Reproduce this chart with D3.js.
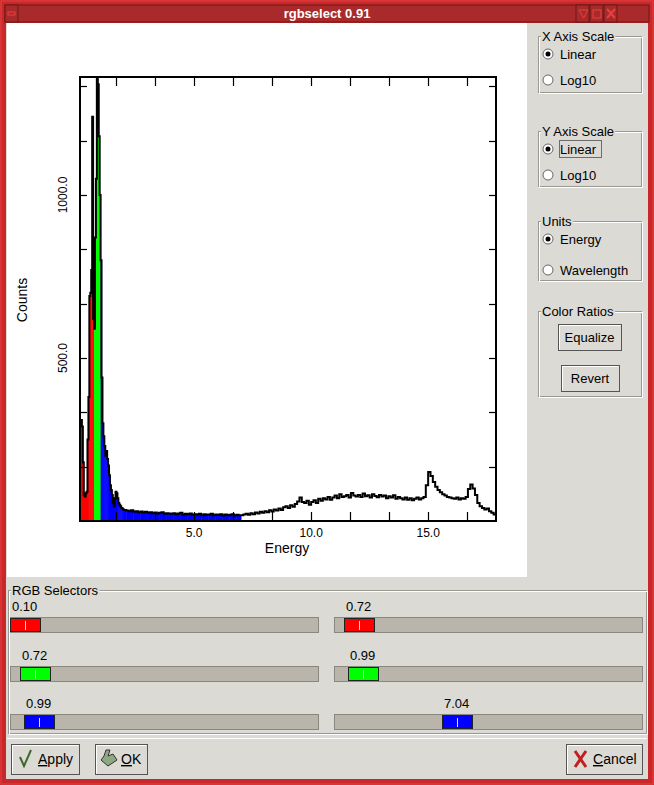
<!DOCTYPE html>
<html><head><meta charset="utf-8">
<script src="https://cdn.jsdelivr.net/npm/d3@7"></script>
<style>body{margin:0;background:#dcdad5}svg{display:block;font-family:"Liberation Sans",Arial,sans-serif}</style>
</head><body><svg id="c" width="654" height="785"></svg>
<script>
// ---- data ----
const lowStart = 0.12, lowStep = 0.04;
const lowCounts = [300,310,290,180,80,75,85,90,250,380,690,700,770,1240,620,590,870,1050,1362,1340,1180,1000,800,440,300,260,230,200,215,190,170,140,110,95,80,55,45,70,90,85,70,55,50,45,40,38,35];
const highStart = 2.0, highStep = 0.1;
const highCounts = [34,32,30,33,28,30,27,29,26,28,25,27,24,26,23,25,27,22,24,23,22,24,21,23,25,20,22,21,23,19,21,20,22,18,21,19,20,22,18,20,19,21,17,20,18,19,21,17,19,18,
18,20,22,19,24,21,26,23,28,25,30,27,33,29,35,32,38,34,42,45,40,48,44,52,60,72,58,55,62,50,
58,64,55,68,62,70,66,74,65,72,78,70,82,74,76,80,72,86,78,75,
80,74,84,76,79,72,82,77,73,80,75,78,70,76,72,79,68,74,70,66,72,65,70,64,68,72,66,70,
74,110,150,138,120,105,95,88,82,78,74,72,
70,68,72,66,70,68,74,98,112,100,80,55,45,40,35,38,30,25,20];
const xDomain = [0.12, 17.9], yDomain = [0, 1362];
const xMajorTicks = [5, 10, 15], yMajorTicks = [500, 1000];
const selectorLabels = ["0.10","0.72","0.72","0.99","0.99","7.04"];
const selectorValues = [0.10,0.72,0.72,0.99,0.99,7.04];
const bandColors = ["#ff0000","#00ff00","#0000ff"];

const bins = [];
lowCounts.forEach((c,i)=>bins.push({x0:lowStart+i*lowStep,x1:lowStart+(i+1)*lowStep,c}));
highCounts.forEach((c,i)=>bins.push({x0:highStart+i*highStep,x1:highStart+(i+1)*highStep,c}));

const svg = d3.select("#c");
const bg="#dcdad5";
svg.append("rect").attr("x",0).attr("y",0).attr("width",654).attr("height",785).attr("fill","#c8282a");
svg.append("rect").attr("x",1).attr("y",1).attr("width",652).attr("height",783).attr("fill","none").attr("stroke","#e84040");
svg.append("rect").attr("x",5).attr("y",5).attr("width",644).attr("height",17).attr("fill","#a82a2a").attr("stroke","#6a1818");
svg.append("text").attr("x",327).attr("y",18).attr("text-anchor","middle").attr("fill","#fff").attr("font-size",13).attr("font-weight","bold").text("rgbselect 0.91");
[5,576,590,604].forEach(x=>svg.append("rect").attr("x",x).attr("y",5).attr("width",13).attr("height",17).attr("fill","#a82a2a").attr("stroke","#6a1818"));
svg.append("rect").attr("x",8).attr("y",12).attr("width",7).attr("height",3).attr("fill","none").attr("stroke","#e84040");
svg.append("path").attr("d","M579,10 L588,10 L583.5,18 Z").attr("fill","none").attr("stroke","#e84040");
svg.append("rect").attr("x",593).attr("y",10).attr("width",8).attr("height",8).attr("fill","none").attr("stroke","#e84040");
svg.append("path").attr("d","M607,9 L615,18 M615,9 L607,18").attr("stroke","#e84040").attr("stroke-width",2);
svg.append("rect").attr("x",6).attr("y",23).attr("width",642).attr("height",756).attr("fill",bg);
svg.append("rect").attr("x",7).attr("y",23).attr("width",520).attr("height",554).attr("fill","#fff");

// plot
const L=80,R=496,T=77,B=521;
const x=d3.scaleLinear().domain(xDomain).range([L,R]);
const y=d3.scaleLinear().domain(yDomain).range([B,T]);
const col=d=>{const m=(d.x0+d.x1)/2; if(m<selectorValues[1])return bandColors[0]; if(m<selectorValues[3])return bandColors[1]; if(m<selectorValues[5])return bandColors[2]; return null;};
svg.append("g").selectAll("rect").data(bins.filter(col)).join("rect")
 .attr("x",d=>x(d.x0)).attr("width",d=>x(d.x1)-x(d.x0)+0.5).attr("y",d=>y(d.c)).attr("height",d=>B-y(d.c)).attr("fill",col);
const pts=bins.map(d=>[d.x0,d.c]); pts.push([bins[bins.length-1].x1,bins[bins.length-1].c]);
svg.append("path").attr("d",d3.line().x(d=>x(d[0])).y(d=>y(d[1])).curve(d3.curveStepAfter)(pts)).attr("fill","none").attr("stroke","#000").attr("stroke-width",2);
svg.append("rect").attr("x",L).attr("y",T).attr("width",R-L).attr("height",B-T).attr("fill","none").attr("stroke","#000").attr("stroke-width",2);
const xt=d3.range(5/3,17.9,5/3), yt=d3.range(500/3,1362,500/3);
const g=svg.append("g").attr("stroke","#000").attr("stroke-width",1.2);
xt.forEach(v=>{const X=Math.round(x(v))+0.5; g.append("line").attr("x1",X).attr("x2",X).attr("y1",B).attr("y2",B-9); g.append("line").attr("x1",X).attr("x2",X).attr("y1",T).attr("y2",T+9);});
yt.forEach(v=>{const Y=Math.round(y(v))+0.5; g.append("line").attr("x1",L).attr("x2",L+7).attr("y1",Y).attr("y2",Y); g.append("line").attr("x1",R).attr("x2",R-7).attr("y1",Y).attr("y2",Y);});
xMajorTicks.forEach(v=>svg.append("text").attr("x",x(v)).attr("y",537).attr("text-anchor","middle").attr("font-size",12).text(v.toFixed(1)));
yMajorTicks.forEach(v=>svg.append("text").attr("transform",`translate(67,${y(v)}) rotate(-90)`).attr("text-anchor","middle").attr("font-size",12).text(v.toFixed(1)));
svg.append("text").attr("x",287).attr("y",553).attr("text-anchor","middle").attr("font-size",14).text("Energy");
svg.append("text").attr("transform","translate(27,300) rotate(-90)").attr("text-anchor","middle").attr("font-size",14).text("Counts");

function group(x0,y0,w,h,title){
 svg.append("rect").attr("x",x0+0.5).attr("y",y0+0.5).attr("width",w).attr("height",h).attr("fill","none").attr("stroke","#9a9893");
 svg.append("rect").attr("x",x0+1.5).attr("y",y0+1.5).attr("width",w).attr("height",h).attr("fill","none").attr("stroke","#fff");
 const t=svg.append("text").attr("x",x0+4).attr("y",y0+5).attr("font-size",13).text(title);
 const bb=t.node().getBBox();
 svg.insert("rect",()=>t.node()).attr("x",bb.x-1).attr("y",y0-2).attr("width",bb.width+2).attr("height",6).attr("fill",bg);
}
function radio(cx,cy,on,label){
 svg.append("circle").attr("cx",cx).attr("cy",cy).attr("r",5).attr("fill","#fff").attr("stroke","#666");
 if(on)svg.append("circle").attr("cx",cx).attr("cy",cy).attr("r",2.5).attr("fill","#000");
 svg.append("text").attr("x",cx+12).attr("y",cy+5).attr("font-size",13).text(label);
}
function button(x0,y0,w,h,label){
 svg.append("rect").attr("x",x0+0.5).attr("y",y0+0.5).attr("width",w).attr("height",h).attr("fill",bg).attr("stroke","#555");
 svg.append("path").attr("d",`M${x0+1.5},${y0+h-0.5} V${y0+1.5} H${x0+w-0.5}`).attr("stroke","#fff").attr("fill","none");
 return svg.append("text").attr("x",x0+w/2).attr("y",y0+h/2+5).attr("text-anchor","middle").attr("font-size",13).text(label);
}
group(538,36,103,56,"X Axis Scale"); radio(548,54,true,"Linear"); radio(548,80,false,"Log10");
group(538,131,103,55,"Y Axis Scale"); radio(548,149,true,"Linear"); radio(548,175,false,"Log10");
svg.append("rect").attr("x",559.5).attr("y",140.5).attr("width",42).attr("height",17).attr("fill","none").attr("stroke","#000").attr("stroke-dasharray","1,1");
group(538,221,103,59,"Units"); radio(548,239,true,"Energy"); radio(548,270,false,"Wavelength");
group(538,311,103,85,"Color Ratios");
button(558,324,63,26,"Equalize"); button(561,365,58,26,"Revert");

group(8,590,638,143,"RGB Selectors");
const rowY=[617,666,714], colX=[10,334], trW=308, thumbW=31;
const thumbX=[10,344,20,348,24,442];
selectorLabels.forEach((lab,i)=>{
 const r=Math.floor(i/2), c=i%2, ty=rowY[r];
 svg.append("rect").attr("x",colX[c]+0.5).attr("y",ty+0.5).attr("width",trW).attr("height",15).attr("fill","#bab5aa").attr("stroke","#8a877f");
 svg.append("rect").attr("x",thumbX[i]+0.5).attr("y",ty+1.5).attr("width",thumbW-1).attr("height",13).attr("fill",bandColors[r]).attr("stroke","#222");
 svg.append("line").attr("x1",thumbX[i]+15.5).attr("x2",thumbX[i]+15.5).attr("y1",ty+4).attr("y2",ty+13).attr("stroke","#ddd");
 svg.append("text").attr("x",thumbX[i]+2).attr("y",ty-6).attr("font-size",13).text(lab);
});
svg.append("line").attr("x1",7).attr("x2",647).attr("y1",738.5).attr("y2",738.5).attr("stroke","#fff");

button(11,744,68,30,"");
svg.append("text").attr("x",38).attr("y",764).attr("font-size",14).html('<tspan text-decoration="underline">A</tspan>pply');
svg.append("path").attr("d","M20,757 L24,766 L31,750").attr("stroke","#3a6a2a").attr("stroke-width",2).attr("fill","none");
button(95,744,52,30,"");
svg.append("text").attr("x",121).attr("y",764).attr("font-size",14).html('<tspan text-decoration="underline">O</tspan>K');
svg.append("path").attr("d","M101,760 L108,766 L117,760 L113,754 L108,756 L110,750 L106,750 L104,756 Z").attr("fill","#8fa882").attr("stroke","#333");
button(566,744,76,30,"");
svg.append("text").attr("x",593).attr("y",764).attr("font-size",14).html('<tspan text-decoration="underline">C</tspan>ancel');
svg.append("path").attr("d","M575,751 L586,767 M586,751 L575,767").attr("stroke","#c02020").attr("stroke-width",3);
</script></body></html>
